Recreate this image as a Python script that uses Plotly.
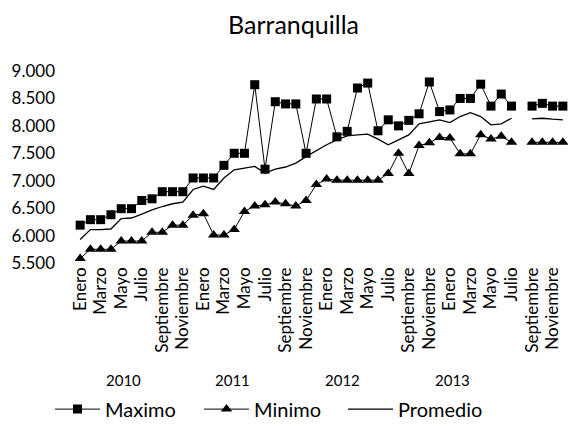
import plotly.graph_objects as go

months = ["Enero", "Febrero", "Marzo", "Abril", "Mayo", "Junio", "Julio",
          "Agosto", "Septiembre", "Octubre", "Noviembre", "Diciembre"]
years = ["2010", "2011", "2012", "2013"]

maximo = [6190, 6290, 6290, 6380, 6490, 6490, 6640, 6670, 6800, 6800, 6800, 7050,
          7050, 7050, 7280, 7500, 7500, 8750, 7210, 8440, 8400, 8400, 7500, 8490,
          8490, 7800, 7900, 8690, 8780, 7910, 8110, 8000, 8100, 8220, 8800, 8260,
          8290, 8500, 8500, 8760, 8360, 8580, 8360, None, 8360, 8410, 8360, 8360]
minimo = [5580, 5750, 5750, 5750, 5900, 5900, 5900, 6060, 6060, 6190, 6190, 6370,
          6400, 6010, 6010, 6110, 6440, 6540, 6560, 6610, 6580, 6540, 6640, 6930,
          7030, 7010, 7010, 7010, 7010, 7010, 7130, 7500, 7130, 7640, 7690, 7790,
          7780, 7490, 7490, 7840, 7760, 7810, 7700, None, 7700, 7700, 7700, 7700]
promedio = [5930, 6110, 6110, 6120, 6310, 6320, 6390, 6470, 6530, 6580, 6610, 6840,
            6900, 6840, 7050, 7200, 7230, 7260, 7140, 7210, 7250, 7320, 7440, 7550,
            7655, 7745, 7818, 7836, 7848, 7758, 7655, 7745, 7836, 8036, 8079, 8109,
            8061, 8170, 8242, 8170, 8018, 8036, 8139, None, 8127, 8139, 8121, 8109]

y_ticks = [5500, 6000, 6500, 7000, 7500, 8000, 8500, 9000]

n = len(years) * len(months)
x = list(range(n))
tick_idx = list(range(0, n, 2))
tick_text = [months[i % 12] for i in tick_idx]

FONT = "Lato"
fig = go.Figure()
fig.add_trace(go.Scatter(x=x, y=maximo, name="Maximo", mode="lines+markers",
                         line=dict(color="black", width=1),
                         marker=dict(symbol="square", size=9, color="black"),
                         connectgaps=False, legend="legend"))
fig.add_trace(go.Scatter(x=x, y=minimo, name="Minimo", mode="lines+markers",
                         line=dict(color="black", width=1),
                         marker=dict(symbol="triangle-up", size=10, color="black"),
                         connectgaps=False, legend="legend2"))
fig.add_trace(go.Scatter(x=x, y=promedio, name="Promedio", mode="lines",
                         line=dict(color="black", width=1.3),
                         connectgaps=False, legend="legend3"))

L, R, T, B = 75, 568, 71, 263.5
H = B - T
year_px = [123, 232, 342, 452]
for yr, px in zip(years, year_px):
    fig.add_annotation(text=yr, xref="paper", yref="paper",
                       x=(px - L) / (R - L), y=-(381 - B) / H,
                       showarrow=False, font=dict(family=FONT, size=15, color="black"),
                       xanchor="center", yanchor="middle")


def leg(px):
    return dict(orientation="h", x=(px - L) / (R - L), xanchor="left",
                y=-(410 - B) / H, yanchor="middle",
                font=dict(family=FONT, size=20, color="black"),
                itemwidth=45, bgcolor="rgba(0,0,0,0)")


fig.update_layout(
    width=587, height=438,
    margin=dict(l=L, r=587 - R, t=T, b=438 - B, autoexpand=False),
    paper_bgcolor="white", plot_bgcolor="white",
    separators=",.",
    title=dict(text="Barranquilla", x=0.5, xanchor="center",
               y=1 - 25 / 438, yanchor="middle",
               font=dict(family=FONT, size=25, color="black")),
    showlegend=True,
    legend=leg(50), legend2=leg(199), legend3=leg(343),
    font=dict(family=FONT, color="black"),
)
fig.update_xaxes(range=[-0.5, n - 0.5], tickmode="array", tickvals=tick_idx,
                 ticktext=tick_text, tickangle=-90, showgrid=False, zeroline=False,
                 showline=False, ticks="", automargin=False,
                 tickfont=dict(family=FONT, size=17, color="black"))
fig.update_yaxes(range=[5500, 9000], tickmode="array", tickvals=y_ticks,
                 tickformat=",d", showgrid=False, zeroline=False, showline=False,
                 ticks="", ticklabelstandoff=19, automargin=False,
                 tickfont=dict(family=FONT, size=17, color="black"))

fig.write_html("out.html", config={"displayModeBar": False},
               post_script="document.body.style.margin='0';document.body.style.padding='0';")
